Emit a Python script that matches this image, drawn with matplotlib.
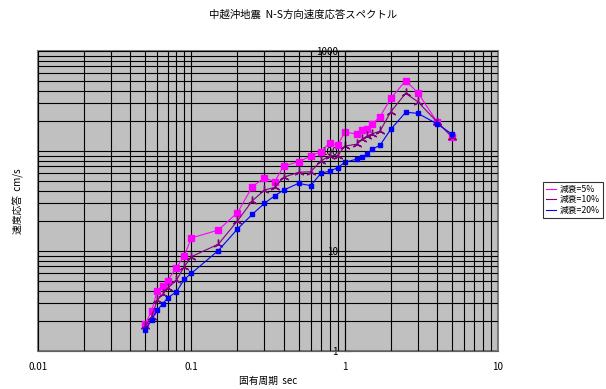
import matplotlib
matplotlib.use('Agg')
import matplotlib.pyplot as plt
from matplotlib.ticker import LogLocator, NullFormatter, FixedLocator

plt.rcParams['font.family'] = ['Noto Sans CJK JP', 'DejaVu Sans']

# period (sec) and velocity response (cm/s)
period = [0.05, 0.055, 0.06, 0.065, 0.07, 0.08, 0.09, 0.1, 0.15, 0.2,
          0.25, 0.3, 0.35, 0.4, 0.5, 0.6, 0.7, 0.8, 0.9, 1.0,
          1.2, 1.3, 1.4, 1.5, 1.7, 2.0, 2.5, 3.0, 4.0, 5.0]
h05 = [1.86, 2.5, 4.0, 4.5, 5.05, 6.8, 9.0, 13.5, 16.2, 24.2,
       44, 54, 49.3, 70.8, 78, 89, 98.5, 121, 114, 154,
       148, 162, 166, 185, 220, 336, 505, 383, 196, 139]
h10 = [1.78, 2.2, 3.24, 3.69, 4.23, 5.13, 6.97, 8.77, 11.7, 20,
       31.8, 40.7, 43.3, 54.6, 61.2, 62, 79.4, 89.8, 89.8, 112,
       117, 131, 141, 148, 158, 247, 377, 311, 196, 139]
h20 = [1.62, 2.04, 2.57, 2.95, 3.39, 3.92, 5.21, 5.98, 10.1, 16.6,
       23.3, 30, 35.7, 40.7, 47.5, 45, 59.8, 63, 68, 77,
       83, 87, 93, 104, 114, 165, 244, 238, 187, 148]

labels = ['減衰=5%', '減衰=10%', '減衰=20%']
xticks = [0.01, 0.1, 1, 10]
yticks = [1, 10, 100, 1000]

fig = plt.figure(figsize=(6.06, 3.89), dpi=100)
ax = fig.add_axes([38/606, 1 - 351/389, 460/606, 300/389])
ax.set_facecolor('#C0C0C0')
ax.set_xscale('log')
ax.set_yscale('log')
ax.set_xlim(0.01, 10)
ax.set_ylim(1, 1000)

ax.grid(True, which='both', color='black', linewidth=0.8)

l1, = ax.plot(period, h05, color='#FF00FF', marker='s', markersize=5, linewidth=0.8)
l2, = ax.plot(period, h10, color='#800080', marker=(3, 2, 0), markersize=7,
              markeredgewidth=1, linewidth=0.8)
l3, = ax.plot(period, h20, color='#0000FF', marker='s', markersize=2.2, linewidth=0.8)

# frame and axes (vertical axis crosses at 1, Excel style)
ax.patch.set_edgecolor('#808080')
ax.patch.set_linewidth(1.5)
ax.spines['top'].set_visible(False)
ax.spines['right'].set_visible(False)
ax.spines['left'].set_position(('data', 1))
ax.spines['left'].set_color('black')
ax.spines['bottom'].set_color('#606060')

ax.xaxis.set_major_locator(FixedLocator(xticks))
ax.set_xticklabels(['0.01', '0.1', '1', '10'])
ax.yaxis.set_major_locator(FixedLocator(yticks))
ax.set_yticklabels(['1', '10', '100', '1000'])
ax.xaxis.set_minor_locator(LogLocator(base=10, subs=range(2, 10)))
ax.yaxis.set_minor_locator(LogLocator(base=10, subs=range(2, 10)))
ax.xaxis.set_minor_formatter(NullFormatter())
ax.yaxis.set_minor_formatter(NullFormatter())
ax.tick_params(axis='x', which='both', length=0, pad=8, labelsize=7)
ax.tick_params(axis='y', which='major', direction='in', length=4, pad=5, labelsize=7)
ax.tick_params(axis='y', which='minor', length=0)

ax.set_xlabel('固有周期  sec', fontsize=7, labelpad=3)
ax.set_ylabel('速度応答  cm/s', fontsize=7)
ax.yaxis.set_label_coords(-0.03, 0.5)

fig.text(0.5, 1 - 15/389, '中越沖地震  N-S方向速度応答スペクトル',
         ha='center', va='center', fontsize=7.5)

leg = fig.legend([l1, l2, l3], labels, loc='upper left',
                 bbox_to_anchor=(543/606, 1 - 182/389), fontsize=6.3,
                 frameon=True, fancybox=False, edgecolor='black',
                 handlelength=1.1, handletextpad=0.5, borderpad=0.35,
                 labelspacing=0.15, borderaxespad=0)
leg.get_frame().set_linewidth(0.8)
for h in leg.legend_handles:
    h.set_marker('')

fig.savefig('out.png', dpi=100)
